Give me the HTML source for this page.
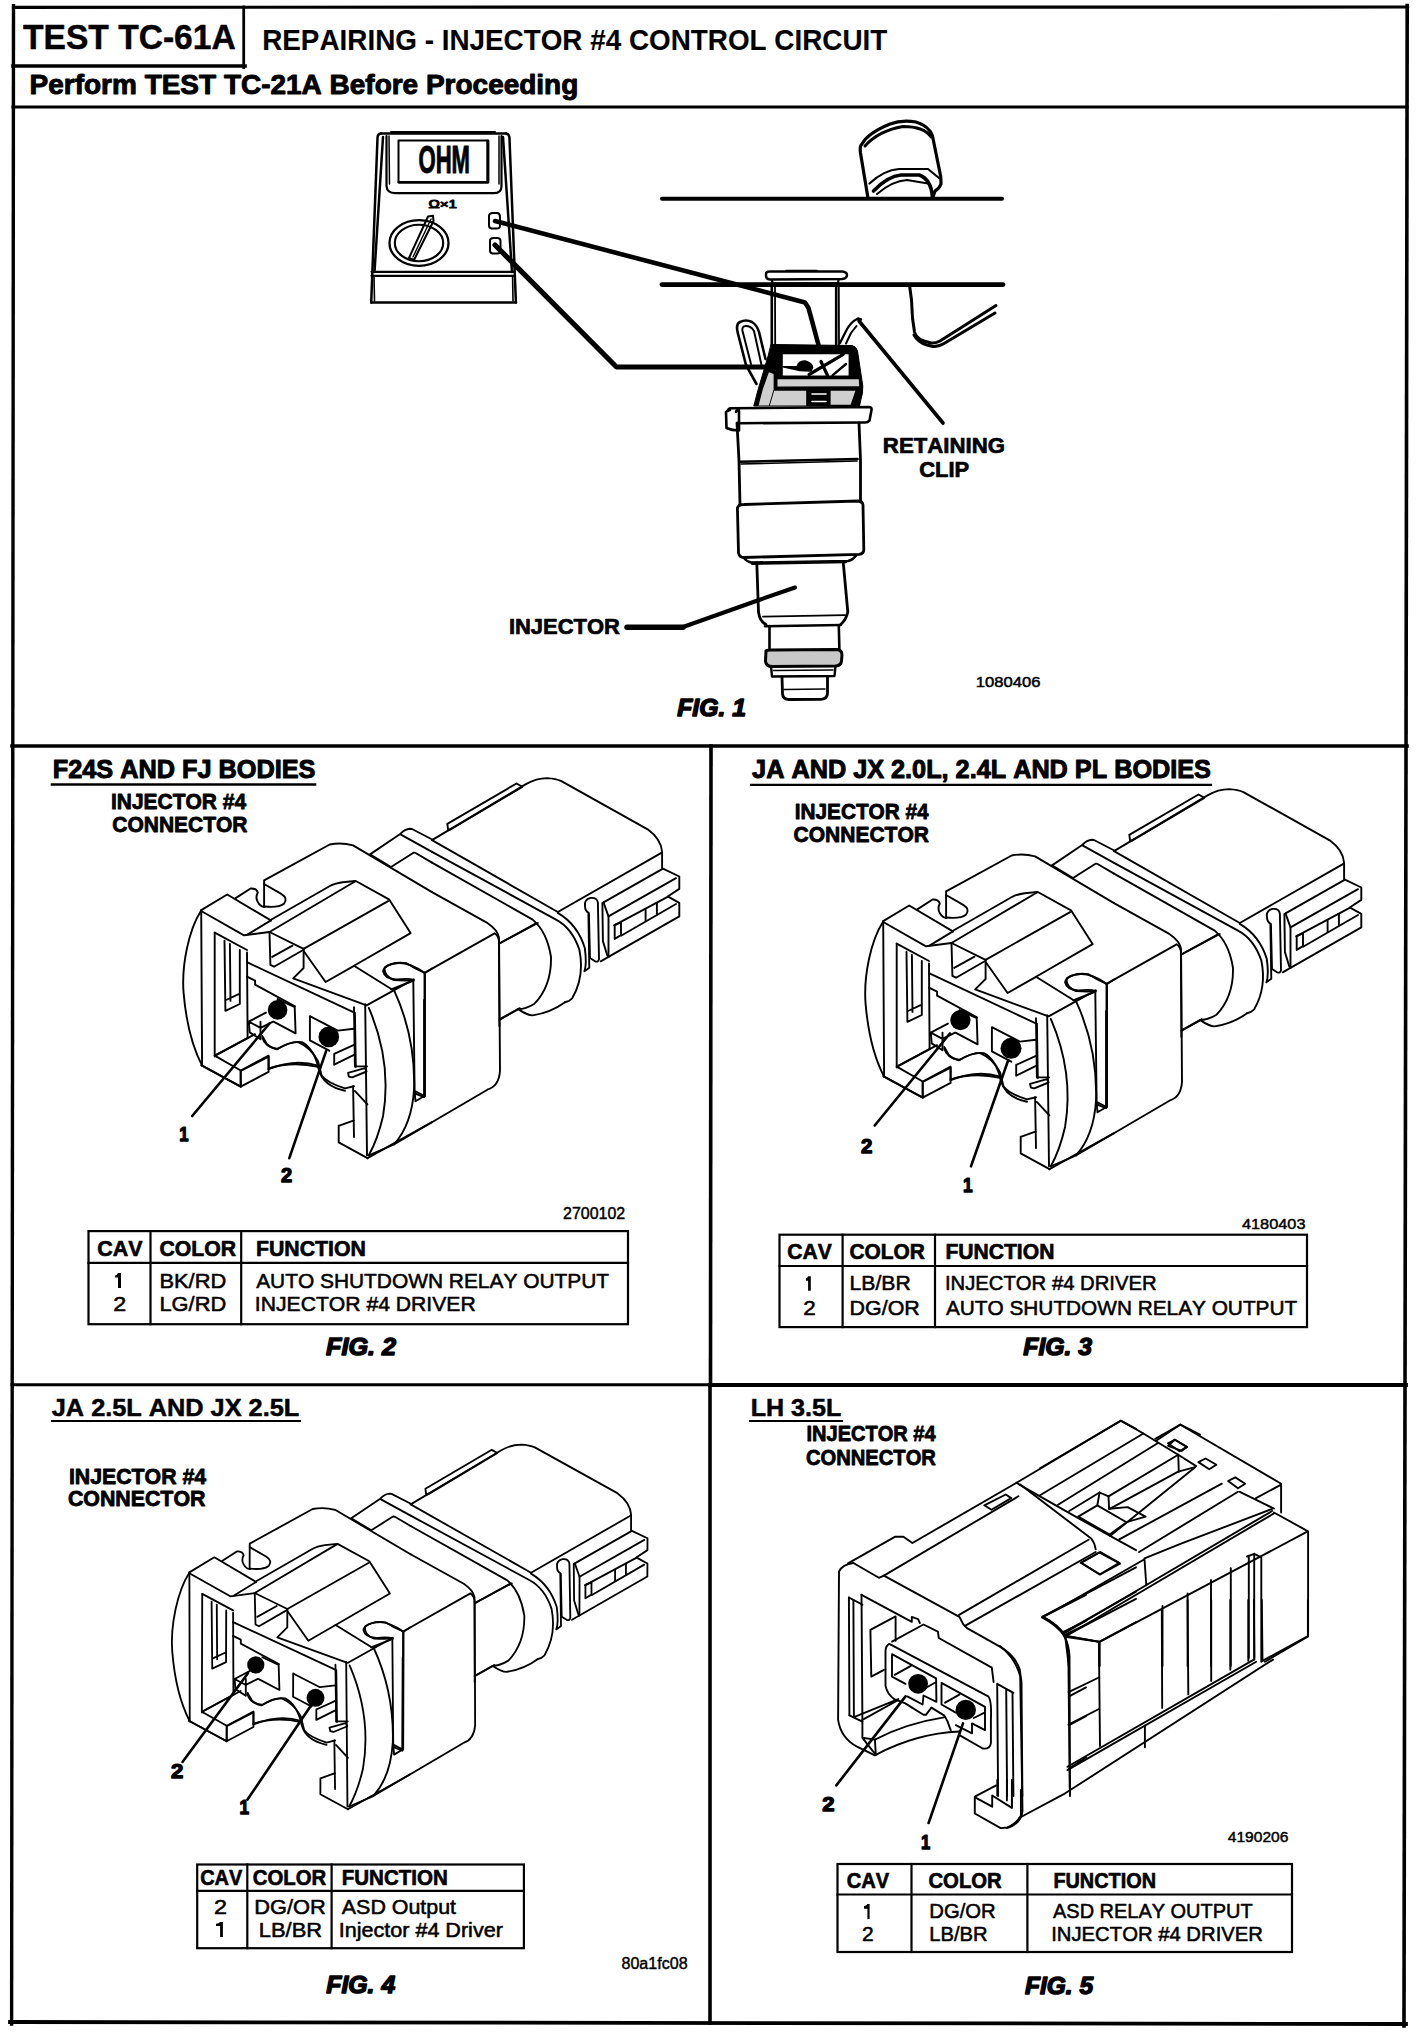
<!DOCTYPE html>
<html><head><meta charset="utf-8"><style>
html,body{margin:0;padding:0;background:#fff;}
svg{display:block;}
text{font-family:"Liberation Sans",sans-serif;font-weight:bold;fill:#000;font-kerning:none;}
</style></head><body>
<svg width="1424" height="2032" viewBox="0 0 1424 2032">
<rect width="1424" height="2032" fill="#fff"/>
<g stroke="#000" stroke-linecap="square" fill="none">
<line x1="13.5" y1="7.3" x2="1407.5" y2="7" stroke-width="3.2"/>
<line x1="13.5" y1="5.7" x2="11.6" y2="2024" stroke-width="3.4"/>
<line x1="1407.2" y1="5.5" x2="1404" y2="2026" stroke-width="3.6"/>
<line x1="10" y1="2022" x2="1406" y2="2024" stroke-width="3.8"/>
<line x1="243.7" y1="7" x2="243.7" y2="67.5" stroke-width="2.8"/>
<line x1="13" y1="66" x2="245" y2="66" stroke-width="3.6"/>
<line x1="13" y1="107" x2="1407" y2="107" stroke-width="3.2"/>
<line x1="12" y1="746" x2="1407" y2="746" stroke-width="3.6"/>
<line x1="711" y1="746" x2="710.5" y2="1385" stroke-width="3.6"/>
<line x1="710" y1="1385" x2="710" y2="2023" stroke-width="3.6"/>
<line x1="12" y1="1384.7" x2="710" y2="1384.7" stroke-width="3"/>
<line x1="710" y1="1385" x2="1406" y2="1385" stroke-width="3.8"/>
<line x1="52" y1="784.5" x2="315" y2="784.5" stroke-width="2.6"/>
<line x1="751" y1="784.9" x2="1211" y2="784.9" stroke-width="2.2"/>
<line x1="52" y1="1421" x2="300" y2="1421" stroke-width="2.2"/>
<line x1="750" y1="1421" x2="842" y2="1421" stroke-width="2.2"/>
<rect x="88.5" y="1231.1" width="539.5" height="93.10000000000014" fill="none" stroke-width="2.2"/>
<line x1="88.5" y1="1262.9" x2="628" y2="1262.9" stroke-width="2.2"/>
<line x1="150.5" y1="1231.1" x2="150.5" y2="1324.2" stroke-width="2.2"/>
<line x1="241.2" y1="1231.1" x2="241.2" y2="1324.2" stroke-width="2.2"/>
<rect x="779.5" y="1234.7" width="527.5" height="92.39999999999986" fill="none" stroke-width="2.2"/>
<line x1="779.5" y1="1266" x2="1307" y2="1266" stroke-width="2.2"/>
<line x1="842.6" y1="1234.7" x2="842.6" y2="1327.1" stroke-width="2.2"/>
<line x1="935" y1="1234.7" x2="935" y2="1327.1" stroke-width="2.2"/>
<rect x="197.2" y="1864.5" width="326.7" height="83.70000000000005" fill="none" stroke-width="2.2"/>
<line x1="197.2" y1="1890.8" x2="523.9" y2="1890.8" stroke-width="2.2"/>
<line x1="247.3" y1="1864.5" x2="247.3" y2="1948.2" stroke-width="2.2"/>
<line x1="331.6" y1="1864.5" x2="331.6" y2="1948.2" stroke-width="2.2"/>
<rect x="837.5" y="1864" width="454.5" height="88" fill="none" stroke-width="2.2"/>
<line x1="837.5" y1="1894.5" x2="1292" y2="1894.5" stroke-width="2.2"/>
<line x1="911.5" y1="1864" x2="911.5" y2="1952" stroke-width="2.2"/>
<line x1="1027.4" y1="1864" x2="1027.4" y2="1952" stroke-width="2.2"/>
<path d="M118,1273 L121,1273 L121,1288 L118,1288 L118,1277.6 L115.1,1277.6 L115.1,1275.6 Q117,1275.4 118,1273 Z" fill="#000" stroke="none"/>
<path d="M808.1,1276.2 L810.8,1276.2 L810.8,1290.8 L808.1,1290.8 L808.1,1280.8 L806,1280.8 L806,1278.1 Q807.5,1278 808.1,1276.2 Z" fill="#000" stroke="none"/>
<path d="M220.1,1921.9 L222.9,1921.9 L222.9,1936.9 L220.1,1936.9 L220.1,1925.9 L216,1925.9 L216,1923.8 Q219,1923.6 220.1,1921.9 Z" fill="#000" stroke="none"/>
<path d="M867.4,1904 L869.6,1904 L869.6,1918.9 L867.4,1918.9 L867.4,1908.8 L864,1908.8 L864,1906 Q866.5,1906 867.4,1904 Z" fill="#000" stroke="none"/>
</g>
<g stroke="#000" fill="none" stroke-linecap="round" stroke-linejoin="round">
<path d="M381,133.5 L506,133.5" stroke-width="2.5" fill="none"/>
<path d="M391,132 L495,132" stroke-width="2" fill="none"/>
<path d="M381,133.5 Q377.5,134 377.5,138 L371.2,302.5" stroke-width="2.5" fill="none"/>
<path d="M383,137 L374.5,272" stroke-width="2.5" fill="none"/>
<path d="M506,133.5 Q509.5,134 509.5,139 L515.9,302.5" stroke-width="2.5" fill="none"/>
<path d="M503,137 L512,272" stroke-width="2.5" fill="none"/>
<path d="M371.2,302.5 L515.9,302.5" stroke-width="2.5" fill="none"/>
<path d="M371.5,271.8 L514.5,271.8" stroke-width="2.2" fill="none"/>
<path d="M371.5,275.8 L514.8,275.8" stroke-width="2.2" fill="none"/>
<path d="M374,276 L374.5,301" stroke-width="1.6" fill="none"/>
<path d="M512.6,276 L513,301" stroke-width="1.6" fill="none"/>
<path d="M386.5,136 L386.5,186 Q387,193 395,193.2 L494,193.2 Q501.5,193 501.5,186 L501.5,136" stroke-width="2.2" fill="none"/>
<path d="M389,136 L389.5,184" stroke-width="1.5" fill="none"/>
<path d="M499,136 L499,184" stroke-width="1.5" fill="none"/>
<path d="M398.5,140.5 L487.5,140.5 L487.5,182 L398.5,182 Z" stroke-width="2" fill="none"/>
<path d="M398.8,182.3 L488,182.3 L488,141" stroke-width="2.8" fill="none"/>
<ellipse cx="419" cy="243" rx="29.5" ry="22.8" stroke-width="2.3" fill="none"/>
<ellipse cx="419" cy="243" rx="24.2" ry="18.3" stroke-width="2.1" fill="none"/>
<path d="M409,258 L428,216.5 L433,215.8 L433.5,221 L414,260 Z" stroke-width="2" fill="none"/>
<path d="M413,257 L431,219" stroke-width="1.4" fill="none"/>
<path d="M489,216 Q489,213 493,213 L497.5,213 Q500,213.5 500,217 L500,226 Q500,228.5 496,228.5 L491.5,228.5 Q489,228 489,225.5 Z" stroke-width="2" fill="none"/>
<path d="M490,240.5 Q490,238 493.5,238 L498,238 Q500.5,238.5 500.5,241 L500.5,251 Q500.5,253.5 497,253.5 L492.5,253.5 Q490,253 490,250.5 Z" stroke-width="2" fill="none"/>
<path d="M662,198.8 L1002,198.8" stroke-width="4.0" fill="none"/>
<path d="M662,284.6 L1003,284.6" stroke-width="4.8" fill="none"/>
<path d="M909.5,285 L911.5,300 L912.5,318 L914.5,332 Q916,338 924,341 L931,343 Q935,343.5 940,341 L996,305.5" stroke-width="3.0" fill="none"/>
<path d="M914,335 Q918,342.5 927,345 L933,346.5 Q937.5,347 944,343.5 L995,313" stroke-width="3" fill="none"/>
<path d="M867.8,197 L860.5,153 Q859.5,146 862,144 Q868,133 890,124 Q902,119.5 916,122 Q929,126 932.5,136 L940.8,177 L941,184 Q939,189 935,191 L933,197" stroke-width="3.2" fill="none"/>
<path d="M865,146 Q878,131 903,126.5 Q924,126.5 931,137" stroke-width="3.0" fill="none"/>
<path d="M869.5,183.5 Q884,170 899,169 L928,169 L939,178" stroke-width="2.2" fill="none"/>
<path d="M873.5,191 Q888,176 901,175 L919,175 Q931,179 932.5,197" stroke-width="3.6" fill="none"/>
<path d="M877,194 Q892,181 907,180 L928,183.5" stroke-width="2" fill="none"/>
<path d="M495,221 L805,302.5 L808.5,308 L825,369" stroke-width="4.6" fill="none" stroke-linejoin="round"/>
<path d="M495,245 L616.5,367 L790,367" stroke-width="5.2" fill="none" stroke-linejoin="round"/>
<path d="M766,274 Q766,271.5 770,271.5 L842,271.5 Q847,272 847,275 Q847,278.5 842,279 L770,279.5 Q766,279 766,276 Z" stroke-width="2.4" fill="none"/>
<path d="M786,270.8 L817,270.8" stroke-width="2" fill="none"/>
<path d="M772,280 L772.5,283.5 L838,283.2 L838.5,280" stroke-width="2.2" fill="none"/>
<path d="M771.8,284 L771.8,345" stroke-width="2.6" fill="none"/>
<path d="M775,285 L775.2,345" stroke-width="1.8" fill="none"/>
<path d="M836.2,284 L836.2,345" stroke-width="2.6" fill="none"/>
<path d="M838.8,284 L839,345" stroke-width="1.8" fill="none"/>
<path d="M771.3,344.5 L852,345.5 Q856.5,346.5 857.5,351 L862.8,386 Q863,394 861,399 L859.5,406 L753.8,406 L758,390 L767.8,357 Z" fill="#000" stroke="#000" stroke-width="1"/>
<path d="M782.8,354.3 L848.6,354.3 L848.6,375.4 L782.8,375.4 Z" fill="#fff" stroke="none"/>
<path d="M777.5,379.3 L858.8,379.3 L859.2,386.3 L777.5,386.6 Z" fill="#cfcfcf" stroke="none"/>
<path d="M774.2,390.8 L806.2,390.8 L806.2,405.5 L769.8,405.5 Z" fill="#cfcfcf" stroke="none"/>
<path d="M830.6,390.8 L855.4,390.8 L850.6,404.8 L830.6,404.8 Z" fill="#cfcfcf" stroke="none"/>
<path d="M768.9,372.3 L773.6,374 L773.6,389.2 L768.9,405.5 L758.6,405.5 L762.8,389.2 Z" fill="#cfcfcf" stroke="none"/>
<path d="M812,394 L826,394 M812,401.5 L826,401.5" stroke="#fff" stroke-width="1.6" fill="none"/>
<path d="M782.8,366.8 L797,366.8 Q799,360.5 805,361 Q812,363 812.6,367.5 L811,371 L800,370.5 Z" fill="#000" stroke="#000" stroke-width="1.5"/>
<path d="M809.1,374.5 L843.3,354.3" stroke-width="3.2" fill="none"/>
<path d="M821,361.5 L827.5,375.5" stroke-width="3.2" fill="none"/>
<path d="M832.5,375.4 L846,364" stroke-width="2.4" fill="none"/>
<path d="M756.5,384 L746,365 L737.8,333 Q735.5,324 740,322 Q746,319 752,322 Q757,325 759,332 L765.5,359" stroke-width="2.6" fill="none"/>
<path d="M751,364 L742.5,331 Q741.5,326 746,326 Q751,326 754,331 L761.5,365" stroke-width="2" fill="none"/>
<path d="M840,343 L845,333 Q850,322 858,318.5 L861,319.5" stroke-width="2.4" fill="none"/>
<path d="M846,343.5 L851,333 L856.5,326" stroke-width="2" fill="none"/>
<path d="M859,321 L943,423" stroke-width="3.6" fill="none"/>
<path d="M728,411 Q728,408.5 731,408.3 L869.5,407 Q872,407.5 871.5,410 L869.5,420.5 Q868,422.5 865,422.5 L741,423.2" stroke-width="2.6" fill="none"/>
<path d="M736,412 Q736.5,409.5 739,409.5 M739,411 L739,430.5 Q732,430.5 726.5,428 L726,412 Q727,410.5 730,410" stroke-width="2.6" fill="none"/>
<path d="M737,423 L739,461 L740,505" stroke-width="2.8" fill="none"/>
<path d="M859,423 L860.5,460 L860.5,502" stroke-width="2.8" fill="none"/>
<path d="M739.5,461.8 L857.5,459" stroke-width="2.6" fill="none"/>
<path d="M741,464 L857,461" stroke-width="1.6" fill="none"/>
<path d="M739,505.5 Q737,507 737.5,511 L738.5,553 Q739.5,557.5 744,557.5 L859,554.3 Q864,554 863.8,549 L863,505 Q862.5,501 858,501 L744,504.5 Q740,504.5 739,505.5 Z" stroke-width="2.8" fill="none"/>
<path d="M744,557.8 Q746,561 751,562.5 L848,561 Q853,560 856,555.5" stroke-width="2.4" fill="none"/>
<path d="M752,563.8 L846,562.2" stroke-width="2.2" fill="none"/>
<path d="M756.8,563 L758.5,612 Q760,622 766,624.5 M843.3,563 L847.8,612 Q846,620 841,624" stroke-width="2.8" fill="none"/>
<path d="M763,616.6 L845,615.2" stroke-width="1.8" fill="none"/>
<path d="M765,626.3 L841,625" stroke-width="2.6" fill="none"/>
<path d="M769.5,626 L769.5,649 M838.8,626 L839.4,649" stroke-width="2.6" fill="none"/>
<path d="M766,651 Q765.5,650.5 770,650 L837,649.5 Q842,650 842,655 L841.5,661 Q841,665.5 836,666 L771,666.5 Q766,666 765.5,661 Z" stroke-width="3" fill="#c8c8c8"/>
<path d="M771,666 L772,676.5 L834.5,676 L835.5,666" stroke-width="2.4" fill="none"/>
<path d="M773.5,670.5 L833,670" stroke-width="1.6" fill="none"/>
<path d="M782,677 L782.5,694 Q783,699.5 789,699.5 L821,699.3 Q827.5,699 827.5,693 L827.5,677" stroke-width="2.8" fill="none"/>
<path d="M784,689.5 L825,689" stroke-width="1.4" fill="none"/>
<path d="M627,627.2 L683,627.2" stroke-width="5.5" fill="none"/>
<path d="M683,627 L759,600 L795,587.5" stroke-width="4" fill="none" stroke-linejoin="round"/>
<text x="418.5" y="173" font-size="39" textLength="51.5" lengthAdjust="spacingAndGlyphs">OHM</text>
<text x="428.5" y="208.3" font-size="11" textLength="28.5" lengthAdjust="spacingAndGlyphs" style="font-weight:normal">Ω×1</text>
</g><g stroke="#000" fill="none" stroke-linecap="round" stroke-linejoin="round">
<g id="conn">
<path d="M 201.2,910.5 C 188.6,929.9 181.4,965.8 183.6,992.8 C 185.9,1019.8 192.2,1046.7 202.1,1065.6" stroke-width="1.9"/>
<path d="M 201.2,910.1 L 202.1,1065.6" stroke-width="1.9"/>
<path d="M 201.2,910.1 L 227.2,894.5 L 270.9,920.4" stroke-width="1.9"/>
<path d="M 247.9,934.4 L 270.9,920.4" stroke-width="1.9"/>
<path d="M 201.2,911.0 L 244.0,935.3 L 269.5,932.0" stroke-width="1.9"/>
<path d="M 235.3,898.4 L 250.6,888.5 Q 256.5,888.2 257.8,892.5 Q 255.1,897.5 257.8,902.0 Q 260.5,906.9 264.4,906.9" stroke-width="1.9"/>
<path d="M 264.1,906.9 L 264.1,880.4 L 329.7,844.5 Q 341.4,842.2 353.1,845.4 L 432.0,892.1" stroke-width="1.9"/>
<path d="M 264.1,884.0 L 281.2,893.9 Q 288.4,898.4 283.9,903.8 Q 278.5,908.0 264.4,906.5" stroke-width="1.9"/>
<path d="M 269.5,932.0 L 355.8,881.0 L 389.0,899.3 L 410.6,933.1 L 354.0,965.8 L 391.7,989.2" stroke-width="1.9"/>
<path d="M271,919.7 L329.9,886 Q334,883.5 342.6,882.2 L355.2,881" stroke-width="1.9"/>
<path d="M 269.5,932.0 L 303.6,948.8 L 388.1,901.1" stroke-width="1.9"/>
<path d="M 269.5,932.0 L 270.4,964.9 L 274.0,966.7 L 303.6,949.7" stroke-width="1.9"/>
<path d="M 272.2,956.9 L 292.5,945.7" stroke-width="1.9"/>
<path d="M 303.6,948.8 L 303.6,968.0 L 293.2,978.4 L 366.6,1005.4 L 413.7,979.3" stroke-width="1.9"/>
<path d="M 304.0,951.5 L 325.6,982.0 L 354.0,965.8" stroke-width="1.9"/>
<path d="M 214.7,932.6 L 214.7,1056.6" stroke-width="1.9"/>
<path d="M 214.7,932.6 L 247.0,950.0" stroke-width="1.9"/>
<path d="M 224.5,940.7 L 225.4,1010.8 L 239.8,1004.0 L 239.8,950.0 M 229.9,943.9 L 230.5,1000.9 M 226.0,1000.0 L 239.8,993.7" stroke-width="1.9"/>
<path d="M 247.0,952.4 L 247.6,1037.8" stroke-width="1.9"/>
<path d="M 247.0,962.2 L 354.9,1012.9 L 355.8,1066.9" stroke-width="1.9"/>
<path d="M 247.0,976.6 L 255.1,980.6 L 255.1,984.7 L 295.0,1006.3" stroke-width="1.9"/>
<path d="M 277.6,999.1 L 294.7,1007.2 L 295.6,1033.3 L 274.0,1021.9" stroke-width="1.9"/>
<path d="M 248.8,1021.6 L 265.9,1012.6 M 248.8,1021.6 L 249.7,1032.4 L 260.5,1039.2 M 260.5,1021.6 L 260.5,1039.2 M 248.8,1021.6 L 260.5,1027.9 L 273.1,1021.6" stroke-width="1.9"/>
<path d="M 309.9,1016.2 L 309.9,1040.4 L 329.2,1050.7 M 309.9,1016.2 L 337.8,1030.6 L 354.0,1028.8" stroke-width="1.9"/>
<path d="M 334.2,1053.9 L 354.0,1044.9 M 334.2,1064.7 L 354.0,1054.8 M 334.2,1053.9 L 334.2,1064.7" stroke-width="1.9"/>
<path d="M 262.3,1037.8 Q 265.0,1046.7 276.7,1049.4 Q 291.1,1040.4 301.8,1042.2 Q 314.4,1048.5 318.9,1070.1 Q 323.4,1086.3 345.0,1090.8" stroke-width="1.9"/>
<path d="M 268.6,1069.2 Q 294.7,1058.4 318.0,1065.6" stroke-width="1.9"/>
<path d="M 214.7,1055.7 L 247.9,1037.8 M 214.7,1055.7 L 240.7,1070.5 L 240.7,1086.7 M 202.1,1065.6 L 240.7,1086.7 M 240.7,1070.5 L 268.6,1055.7 L 268.6,1069.2" stroke-width="1.9"/>
<path d="M 425.0,973.0 Q 409.7,962.6 398.9,963.0 Q 384.5,964.0 383.1,971.2 Q 384.5,978.4 396.2,979.5 Q 407.9,978.1 413.7,979.9" stroke-width="1.9"/>
<path d="M 425.0,973.0 L 425.0,1096.0 M 425.0,973.0 L 432.0,968.5" stroke-width="1.9"/>
<path d="M370,854.4 L400.2,834 Q405,829 410,828.8 L412,829 L433.2,840" stroke-width="1.9"/>
<path d="M400.9,834.7 L432,851.8" stroke-width="1.9"/>
<path d="M370,854.4 L391,867 L413.5,852.7 Q414.5,852.5 415.6,853 L432,862.6" stroke-width="1.9"/>
<path d="M 432.0,840.1 L 525.5,784.4 Q 536.3,778.1 547.1,778.1 Q 556.0,778.6 561.4,781.1 L 647.7,829.3 Q 661.2,839.2 662.1,851.8 L 662.1,868.0" stroke-width="1.9"/>
<path d="M 447.3,823.9 L 516.5,783.5 L 521.9,786.5 M 450.0,829.7 L 521.9,787.1 M 447.3,823.9 L 448.2,830.2 L 453.6,827.5" stroke-width="1.9"/>
<path d="M 661.8,852.7 L 557.8,912.0" stroke-width="1.9"/>
<path d="M 432.0,840.1 L 557.8,912.0" stroke-width="1.9"/>
<path d="M 432.0,851.8 L 556.0,919.6 Q 572.2,928.2 579.4,949.8 Q 584.8,976.7 572.2,998.3 Q 568.6,1001.9 565.0,1002.3" stroke-width="1.9"/>
<path d="M 432.0,862.6 L 532.7,919.6 Q 547.1,931.8 551.0,957.0 Q 551.6,985.7 534.5,1003.7 Q 525.5,1009.1 518.3,1009.1" stroke-width="1.9"/>
<path d="M 432.0,892.2 L 487.7,923.2 Q 497.6,930.0 498.9,937.2 L 499.4,1026.0" stroke-width="1.9"/>
<path d="M 499.4,943.5 L 536.3,923.2" stroke-width="1.9"/>
<path d="M 557.8,912.9 Q 577.6,924.6 584.8,948.0 Q 587.0,964.2 584.4,971.3 L 589.3,967.8 L 588.4,913.8" stroke-width="1.9"/>
<path d="M 499.4,1019.9 L 518.3,1009.1 Q 527.3,1015.4 532.7,1015.4 Q 550.7,1012.7 565.0,1002.3" stroke-width="1.9"/>
<path d="M603.5,902.4 L663,868.7 L679.3,876.5 L679.3,888.9 L668.1,896.2" stroke-width="1.9"/>
<path d="M676,878.2 L608.5,916.4 L603.5,902.4" stroke-width="1.9"/>
<path d="M668.1,896.7 L679.3,902.9 L679.3,916.4 L608.5,956.9" stroke-width="1.9"/>
<path d="M676,904 L621.5,935.5" stroke-width="1.9"/>
<path d="M668.1,896.7 L614.2,925.4" stroke-width="1.9"/>
<path d="M614.7,925 L621,922.4 L621,935.1 L614.7,938.9 Z M645.6,909.7 L645.6,920.9 M656.9,902.9 L656.9,914.2" stroke-width="1.9"/>
<path d="M608.5,916.4 L608.5,955.7" stroke-width="1.9"/>
<path d="M602.4,902.9 L602.9,941.1 L607.4,955.7" stroke-width="1.9"/>
<path d="M600.7,961.3 L608.5,956.9" stroke-width="1.9"/>
<path d="M585,906.3 Q583.8,899.6 590.6,897.9 Q597.3,897.3 597.9,902.9 L599,959.1 Q598.4,962.5 595.1,961.3 L590,958 L588.9,913 Q585,910.8 585,906.3" stroke-width="1.9"/>
<path d="M348,1072.8 L364.9,1068.1 L366.6,1071.5 L352.2,1077.4 L348.9,1076.6 Z" stroke-width="1.9"/>
<path d="M354.8,1090.9 L367.4,1104.4" stroke-width="1.9"/>
<path d="M355.3,1066.4 L367,1066.4" stroke-width="1.9"/>
<path d="M 424.5,972.8 L 494.6,933.3 Q 499.1,936.0 499.1,943.1 L 500.0,1070.8 Q 499.1,1086.1 487.4,1089.7 L 393.9,1144.5 L 368.8,1155.3" stroke-width="1.9"/>
<path d="M 424.5,972.8 L 424.5,1096.0" stroke-width="1.9"/>
<path d="M 424.5,972.8 Q 415.5,969.2 406.5,963.3 Q 393.9,961.1 384.9,967.4 Q 383.1,975.5 393.9,980.0 Q 406.5,980.9 413.3,980.0 L 414.6,1090.9 L 424.5,1096.0 M 414.6,1090.9 L 415.5,1101.3 L 424.5,1096.0" stroke-width="1.9"/>
<path d="M 391.2,989.3 L 413.7,980.5" stroke-width="1.9"/>
<path d="M 365.2,1004.3 L 367.0,1155.3" stroke-width="1.9"/>
<path d="M 368.8,1007.9 Q 392.1,1061.8 383.1,1115.7 Q 377.8,1139.1 368.8,1155.3" stroke-width="1.9"/>
<path d="M 393.9,989.9 Q 415.5,1036.6 414.1,1088.8 Q 411.9,1124.7 393.9,1144.5" stroke-width="1.9"/>
<path d="M 500.0,943.1 L 537.8,923.0 M 500.0,1019.0 L 519.8,1008.2" stroke-width="1.9"/>
<path d="M 201.2,1065.1 L 240.7,1086.7 L 240.7,1071.0 M 240.7,1086.7 L 268.6,1071.9 L 268.6,1056.6 M 240.7,1071.0 L 268.6,1056.6" stroke-width="1.9"/>
<path d="M 215.2,1055.7 L 255.1,1034.2" stroke-width="1.9"/>
<path d="M 268.6,1068.3 Q 292.9,1061.1 318.0,1066.9" stroke-width="1.9"/>
<path d="M 262.3,1036.0 L 266.8,1044.0 Q 273.1,1049.4 278.5,1048.5 Q 291.1,1041.3 298.2,1042.2 Q 310.8,1047.6 318.0,1061.1 L 321.6,1075.5 Q 327.0,1082.7 345.0,1088.4 L 354.0,1086.3" stroke-width="1.9"/>
<path d="M 354.0,1007.2 L 354.9,1066.5 M 353.1,1086.3 L 354.0,1137.0 M 338.7,1125.8 L 354.0,1120.4 M 338.7,1125.8 L 338.7,1142.4 L 367.5,1158.2" stroke-width="1.9"/>
<path d="M 367.5,1158.2 L 432.0,1122.2" stroke-width="1.9"/>
<path d="M 415.1,1093.5 L 424.1,1097.1 L 424.1,1000.0" stroke-width="1.9"/>
</g>
<use href="#conn" transform="translate(682,11)"/>
<use href="#conn" transform="matrix(0.958,-0.00403,-0.00308,0.9577,-0.578,701.56)"/>
<circle cx="277.6" cy="1009.9" r="9.8" fill="#000" stroke="none"/>
<circle cx="328.8" cy="1036.9" r="10.3" fill="#000" stroke="none"/>
<path d="M269.5,1023.5 L192.2,1116" stroke-width="2.6"/>
<path d="M326.1,1051.2 L289.3,1158.2" stroke-width="2.6"/>
<circle cx="960.4" cy="1020.2" r="10.1" fill="#000" stroke="none"/>
<circle cx="1011" cy="1048.3" r="10.5" fill="#000" stroke="none"/>
<path d="M949.9,1033.5 L874.7,1125.5" stroke-width="2.6"/>
<path d="M1008.2,1060.2 L971,1166.3" stroke-width="2.6"/>
<circle cx="255.8" cy="1664.9" r="8.6" fill="#000" stroke="none"/>
<circle cx="315.5" cy="1697.8" r="9" fill="#000" stroke="none"/>
<path d="M248.1,1673 L182.5,1762" stroke-width="2.6"/>
<path d="M311,1705.4 L247.5,1799.6" stroke-width="2.6"/>
</g><g stroke="#000" fill="none" stroke-linecap="round" stroke-linejoin="round">
<path d="M 853.4,1563.0 Q 842.6,1564.3 839.0,1571.5 L 838.1,1719.8 Q 840.8,1737.8 857.0,1746.7 L 874.9,1755.4" stroke-width="1.9"/>
<path d="M 853.4,1563.0 L 878.9,1577.8 L 883.9,1575.6 L 959.4,1616.9 L 963.4,1624.5 L 967.0,1628.1 L 999.0,1646.1 Q 1015.2,1655.1 1019.7,1669.4 L 1021.5,1682.0 L 1022.4,1796.0" stroke-width="1.9"/>
<path d="M848,1563.4 L895.3,1536.7 L903.4,1536.7 L912.4,1543 L1016.6,1482.8" stroke-width="1.9"/>
<path d="M883.9,1575.6 L1018.4,1496.3" stroke-width="1.9"/>
<path d="M 848.9,1597.5 L 849.4,1715.3 M 853.4,1600.2 L 853.9,1717.1 M 861.5,1594.8 L 862.4,1719.8" stroke-width="1.9"/>
<path d="M 848.9,1597.5 L 862.4,1604.7 M 861.5,1594.8 L 911.8,1621.8 L 911.8,1616.9 L 918.1,1619.1 L 919.9,1623.1" stroke-width="1.9"/>
<path d="M 849.4,1715.3 L 862.4,1721.6 M 853.9,1717.1 L 898.3,1699.1 M 862.4,1719.8 L 898.3,1700.0" stroke-width="1.9"/>
<path d="M 870.4,1629.9 L 895.6,1616.4 L 895.6,1640.7 M 870.4,1629.9 L 871.3,1676.6 L 883.9,1669.8" stroke-width="1.9"/>
<path d="M 892.0,1641.6 L 923.5,1624.5 L 937.9,1631.7 L 938.8,1638.0 L 991.8,1667.6 L 993.6,1682.0" stroke-width="1.9"/>
<path d="M 889.3,1643.9 L 988.2,1696.4 Q 991.8,1700.0 990.9,1719.8 L 990.9,1743.1 Q 990.0,1749.4 982.8,1748.5 L 959.4,1735.1" stroke-width="1.9"/>
<path d="M889.3,1643.9 Q885.5,1646 885.5,1651 L885.5,1685.7 Q887,1694 894.3,1699.2 L905.3,1703.4 L923.4,1714.8 L925.9,1714.8 L931.4,1707.6 L944.4,1715.6 L947.4,1721.1 L950.8,1730.4" stroke-width="1.9"/>
<path d="M 892.0,1654.2 L 936.1,1678.4 L 936.4,1701.8 L 923.5,1695.5 L 922.6,1704.5 L 907.3,1696.4 M 892.0,1654.2 L 892.0,1676.6 L 905.5,1683.8 M 894.7,1674.8 L 910.9,1665.8 M 923.5,1689.2 L 936.1,1682.0" stroke-width="1.9"/>
<path d="M 941.5,1682.9 L 985.0,1706.8 L 985.0,1730.2 L 972.0,1723.4 L 972.0,1733.3 L 955.8,1725.2 M 941.5,1682.9 L 941.5,1704.5 L 955.8,1712.6 M 945.1,1702.7 L 959.4,1694.6 M 973.8,1718.0 L 984.6,1712.6" stroke-width="1.9"/>
<path d="M 997.2,1683.8 L 1013.4,1692.8 M 997.2,1683.8 L 998.1,1796.0 M 1006.2,1689.2 L 1007.1,1796.0 M 1012.5,1692.8 L 1013.4,1796.0" stroke-width="1.9"/>
<path d="M 874.9,1739.6 Q 905.5,1723.4 945.1,1717.1 M 875.8,1754.8 Q 916.3,1733.3 959.4,1731.5" stroke-width="1.9"/>
<path d="M 862.4,1721.6 L 862.4,1737.8 L 874.9,1739.6 M 862.4,1737.8 L 875.8,1754.8 L 874.9,1739.6" stroke-width="1.9"/>
<path d="M 1042.1,1617.3 Q 1058.3,1626.3 1063.7,1635.3 Q 1069.1,1644.3 1069.5,1656.9 L 1070.0,1796.0" stroke-width="1.9"/>
<path d="M 1063.7,1635.3 L 1086.0,1624.5 M 1061.9,1632.6 L 1086.0,1620.9" stroke-width="1.9"/>
<path d="M 1069.1,1696.4 L 1086.0,1687.4 M 1069.1,1725.2 L 1086.0,1716.2 M 1069.1,1768.3 L 1086.0,1757.5" stroke-width="1.9"/>
<path d="M 1042.1,1617.3 L 1086.0,1594.8" stroke-width="1.9"/>
<path d="M 1016.6,1482.8 L 1120.9,1420.8 L 1136.0,1428.9" stroke-width="1.9"/>
<path d="M 1020.2,1484.6 L 1091.2,1538.5 Q 1094.8,1543.0 1095.7,1549.3" stroke-width="1.9"/>
<path d="M 1016.6,1482.8 L 1020.2,1485.1" stroke-width="1.9"/>
<path d="M 984.3,1505.3 L 1005.8,1494.5 L 1011.2,1498.1 L 991.5,1509.8 Z" stroke-width="1.9"/>
<path d="M 959.1,1614.9 L 1088.5,1539.8 M 965.4,1625.7 L 1095.7,1552.0" stroke-width="1.9"/>
<path d="M 1081.3,1562.8 L 1099.3,1552.4 L 1120.0,1563.7 L 1100.2,1574.5 Z" stroke-width="1.9"/>
<path d="M 1042.7,1616.7 L 1136.0,1567.3" stroke-width="1.9"/>
<path d="M 1042.7,1616.7 Q 1059.8,1625.7 1065.2,1636.5 L 1068.8,1666.0" stroke-width="1.9"/>
<path d="M 1063.4,1632.9 L 1136.0,1591.6 M 1065.2,1635.8 L 1136.0,1598.8" stroke-width="1.9"/>
<path d="M 1065.2,1636.9 L 1099.3,1641.9 L 1136.0,1622.1 M 1099.3,1641.9 L 1099.3,1666.0" stroke-width="1.9"/>
<path d="M 1020.2,1485.1 L 1077.8,1517.9 L 1110.1,1535.8 L 1136.0,1550.2" stroke-width="1.9"/>
<path d="M 1239.8,1491.8 L 1273.9,1508.5" stroke-width="1.9"/>
<path d="M 1155.3,1438.8 L 1180.4,1424.7 L 1281.1,1483.7 L 1281.1,1512.5 M 1256.0,1498.1 L 1281.1,1484.6" stroke-width="1.9"/>
<path d="M 1167.9,1443.3 L 1175.1,1439.7 L 1186.7,1446.9 L 1179.6,1451.3 Z M 1198.4,1462.1 L 1205.6,1458.5 L 1216.4,1464.8 L 1209.2,1469.3 Z M 1228.1,1481.0 L 1235.3,1477.4 L 1245.2,1483.7 L 1238.0,1488.2 Z" stroke-width="1.9"/>
<path d="M 1110.3,1535.8 L 1194.8,1467.5 M 1119.3,1539.4 L 1221.8,1483.7 M 1139.1,1552.0 L 1238.0,1491.8 M 1144.5,1558.3 L 1180.4,1543.9 L 1272.1,1508.9" stroke-width="1.9"/>
<path d="M1040,1468.3 L1120.9,1420.6 L1143.4,1433.5 L1158,1442.5 L1178.2,1454.8 L1196.2,1466.1" stroke-width="1.9"/>
<path d="M1156.9,1440.2 L1180.4,1424.5 L1200,1434.6" stroke-width="1.9"/>
<path d="M1168.1,1445.8 L1174.8,1439.7 L1187.2,1447 L1181.6,1450.9 Z" stroke-width="1.9"/>
<path d="M1040,1495.3 L1143.4,1433.5" stroke-width="1.9"/>
<path d="M1058,1504.8 L1158,1443" stroke-width="1.9"/>
<path d="M1069.2,1511 L1099.6,1492.5 L1108.5,1496.4 L1178.2,1454.8" stroke-width="1.9"/>
<path d="M1099.6,1492.5 L1097.3,1505.4 M1108.5,1496.4 L1109.1,1508.8" stroke-width="1.9"/>
<path d="M1078.2,1516.6 L1097.3,1505.4 L1126.5,1522.2 L1109.7,1534.6 Z" stroke-width="1.9"/>
<path d="M1109.1,1508.8 L1127.6,1507.1 L1145.6,1516.6 L1126.5,1522.2" stroke-width="1.9"/>
<path d="M1109.7,1508.8 L1178.2,1471.7 L1195,1467.2" stroke-width="1.9"/>
<path d="M1178.2,1454.8 L1178.8,1471.7" stroke-width="1.9"/>
<path d="M1020.9,1790 L1020.9,1815.7 Q1016,1824 1007.4,1827.5 L1000.7,1828.1 L974.8,1813.5 L974.8,1796.6 L996.2,1785.4" stroke-width="1.9"/>
<path d="M976,1797.8 L992.2,1806.7 L992.2,1795.5 L1011.9,1807.9 L1011.9,1799" stroke-width="1.9"/>
<path d="M997.3,1780 L997.3,1795.5 M1006.9,1780 L1006.9,1800.6 M1011.9,1780 L1011.9,1806.7" stroke-width="1.9"/>
<path d="M 1080.7,1562.8 L 1100.4,1552.0 L 1119.3,1562.8 L 1099.6,1574.5 Z" stroke-width="1.9"/>
<path d="M 1060.0,1607.8 L 1144.5,1559.2 L 1146.3,1585.3" stroke-width="1.9"/>
<path d="M 1063.6,1633.8 L 1272.1,1511.0 M 1065.4,1636.5 L 1273.9,1513.4" stroke-width="1.9"/>
<path d="M 1273.9,1512.5 L 1308.1,1531.3 L 1308.1,1636.5 L 1264.9,1661.7" stroke-width="1.9"/>
<path d="M 1065.4,1635.6 L 1099.6,1641.9 L 1306.3,1532.2 M 1099.6,1641.9 L 1099.6,1666.0" stroke-width="1.9"/>
<path d="M 1162.5,1606.0 L 1162.5,1666.0 M 1187.6,1593.4 L 1187.6,1666.0 M 1211.0,1579.9 L 1211.0,1666.0 M 1230.8,1568.2 L 1230.8,1666.0 M 1248.8,1556.5 L 1248.8,1658.1 M 1254.2,1553.8 L 1254.2,1658.1 M 1261.3,1557.4 L 1261.3,1661.7 M 1247.0,1556.5 L 1254.2,1553.8 L 1261.3,1557.4" stroke-width="1.9"/>
<path d="M 1000.0,1646.1 Q 1015.7,1658.4 1020.2,1676.4 L 1022.5,1811.2 Q 1021.3,1823.6 1006.7,1828.1" stroke-width="1.9"/>
<path d="M 1019.1,1818.0 L 1065.2,1793.3 L 1273.0,1659.6" stroke-width="1.9"/>
<path d="M 1067.4,1766.7 L 1253.9,1659.6 M 1067.4,1770.1 L 1256.2,1661.8" stroke-width="1.9"/>
<path d="M 1042.7,1616.9 Q 1058.4,1624.7 1065.2,1636.0 Q 1068.5,1649.4 1068.5,1667.4 L 1069.7,1788.8" stroke-width="1.9"/>
<path d="M 1065.2,1636.0 L 1098.9,1641.6 L 1100.0,1746.1" stroke-width="1.9"/>
<path d="M 1068.5,1692.1 L 1098.9,1677.5 M 1068.5,1724.7 L 1098.9,1709.0" stroke-width="1.9"/>
<path d="M 1161.8,1609.0 L 1162.2,1707.9 M 1187.6,1600.0 L 1188.3,1694.4 M 1211.2,1600.0 L 1211.2,1680.9 M 1230.3,1600.0 L 1230.3,1669.7 M 1248.3,1600.0 L 1248.3,1660.7 M 1253.9,1600.0 L 1254.4,1659.6 M 1261.8,1600.0 L 1262.5,1660.7" stroke-width="1.9"/>
<path d="M 1307.9,1600.0 L 1307.9,1636.0 L 1262.9,1660.7 M 1144.9,1725.8 L 1144.9,1747.2 M 1042.7,1616.9 L 1074.2,1600.0" stroke-width="1.9"/>
<circle cx="918.0898876404494" cy="1683.8202247191011" r="9.9" fill="#000" stroke="none"/>
<circle cx="965.7303370786517" cy="1709.887640449438" r="10.2" fill="#000" stroke="none"/>
<path d="M905.5,1696.4 L836.3,1785.4" stroke-width="2.6"/>
<path d="M963.0,1723.4 L928.6,1823" stroke-width="2.6"/>
</g>
<g>
<text x="23.05" y="48.67" font-size="35.68" textLength="212.61" lengthAdjust="spacingAndGlyphs" style="stroke:#000;stroke-width:0.45;stroke-linejoin:round">TEST TC-61A</text>
<text x="262.19" y="49.80" font-size="28.63" textLength="625.06" lengthAdjust="spacingAndGlyphs" style="stroke:#000;stroke-width:0.10;stroke-linejoin:round">REPAIRING - INJECTOR #4 CONTROL CIRCUIT</text>
<text x="29.60" y="94.33" font-size="27.25" textLength="548.69" lengthAdjust="spacingAndGlyphs" style="stroke:#000;stroke-width:0.95;stroke-linejoin:round">Perform TEST TC-21A Before Proceeding</text>
<text x="882.86" y="452.55" font-size="21.95" textLength="122.16" lengthAdjust="spacingAndGlyphs" style="stroke:#000;stroke-width:0.70;stroke-linejoin:round">RETAINING</text>
<text x="919.15" y="477.25" font-size="21.95" textLength="50.05" lengthAdjust="spacingAndGlyphs" style="stroke:#000;stroke-width:0.70;stroke-linejoin:round">CLIP</text>
<text x="508.88" y="634.45" font-size="21.95" textLength="110.92" lengthAdjust="spacingAndGlyphs" style="stroke:#000;stroke-width:0.70;stroke-linejoin:round">INJECTOR</text>
<text x="677.26" y="715.60" font-size="23.98" textLength="68.76" lengthAdjust="spacingAndGlyphs" style="font-style:italic;stroke:#000;stroke-width:1.40;stroke-linejoin:round">FIG. 1</text>
<text x="975.89" y="686.75" font-size="15.55" textLength="64.59" lengthAdjust="spacingAndGlyphs" style="font-weight:normal;stroke:#000;stroke-width:0.50;stroke-linejoin:round">1080406</text>
<text x="52.81" y="778.30" font-size="25.87" textLength="262.58" lengthAdjust="spacingAndGlyphs" style="stroke:#000;stroke-width:1.00;stroke-linejoin:round">F24S AND FJ BODIES</text>
<text x="752.12" y="778.40" font-size="26.16" textLength="458.87" lengthAdjust="spacingAndGlyphs" style="stroke:#000;stroke-width:1.00;stroke-linejoin:round">JA AND JX 2.0L, 2.4L AND PL BODIES</text>
<text x="51.77" y="1415.65" font-size="23.98" textLength="247.46" lengthAdjust="spacingAndGlyphs" style="stroke:#000;stroke-width:0.50;stroke-linejoin:round">JA 2.5L AND JX 2.5L</text>
<text x="750.67" y="1415.65" font-size="23.98" textLength="90.55" lengthAdjust="spacingAndGlyphs" style="stroke:#000;stroke-width:0.50;stroke-linejoin:round">LH 3.5L</text>
<text x="111.00" y="809.40" font-size="21.80" textLength="135.11" lengthAdjust="spacingAndGlyphs" style="stroke:#000;stroke-width:0.80;stroke-linejoin:round">INJECTOR #4</text>
<text x="112.24" y="832.20" font-size="21.37" textLength="135.29" lengthAdjust="spacingAndGlyphs" style="stroke:#000;stroke-width:0.80;stroke-linejoin:round">CONNECTOR</text>
<text x="794.71" y="818.50" font-size="21.80" textLength="133.90" lengthAdjust="spacingAndGlyphs" style="stroke:#000;stroke-width:0.80;stroke-linejoin:round">INJECTOR #4</text>
<text x="793.54" y="842.40" font-size="21.37" textLength="135.39" lengthAdjust="spacingAndGlyphs" style="stroke:#000;stroke-width:0.80;stroke-linejoin:round">CONNECTOR</text>
<text x="68.88" y="1483.50" font-size="21.80" textLength="137.24" lengthAdjust="spacingAndGlyphs" style="stroke:#000;stroke-width:0.80;stroke-linejoin:round">INJECTOR #4</text>
<text x="67.92" y="1506.10" font-size="21.37" textLength="137.51" lengthAdjust="spacingAndGlyphs" style="stroke:#000;stroke-width:0.80;stroke-linejoin:round">CONNECTOR</text>
<text x="806.46" y="1441.20" font-size="21.80" textLength="129.15" lengthAdjust="spacingAndGlyphs" style="stroke:#000;stroke-width:0.80;stroke-linejoin:round">INJECTOR #4</text>
<text x="805.97" y="1465.00" font-size="21.37" textLength="129.94" lengthAdjust="spacingAndGlyphs" style="stroke:#000;stroke-width:0.80;stroke-linejoin:round">CONNECTOR</text>
<text x="97.35" y="1256.38" font-size="21.58" textLength="45.28" lengthAdjust="spacingAndGlyphs" style="stroke:#000;stroke-width:0.65;stroke-linejoin:round">CAV</text>
<text x="159.46" y="1256.38" font-size="21.58" textLength="76.55" lengthAdjust="spacingAndGlyphs" style="stroke:#000;stroke-width:0.65;stroke-linejoin:round">COLOR</text>
<text x="255.90" y="1256.38" font-size="21.58" textLength="110.01" lengthAdjust="spacingAndGlyphs" style="stroke:#000;stroke-width:0.65;stroke-linejoin:round">FUNCTION</text>
<text x="113.20" y="1311.22" font-size="21.00" textLength="13.00" lengthAdjust="spacingAndGlyphs" style="font-weight:normal;stroke:#000;stroke-width:0.55;stroke-linejoin:round">2</text>
<text x="159.49" y="1287.72" font-size="21.00" textLength="66.68" lengthAdjust="spacingAndGlyphs" style="font-weight:normal;stroke:#000;stroke-width:0.55;stroke-linejoin:round">BK/RD</text>
<text x="159.49" y="1311.22" font-size="21.00" textLength="66.68" lengthAdjust="spacingAndGlyphs" style="font-weight:normal;stroke:#000;stroke-width:0.55;stroke-linejoin:round">LG/RD</text>
<text x="256.13" y="1287.72" font-size="21.00" textLength="352.97" lengthAdjust="spacingAndGlyphs" style="font-weight:normal;stroke:#000;stroke-width:0.55;stroke-linejoin:round">AUTO SHUTDOWN RELAY OUTPUT</text>
<text x="254.82" y="1311.22" font-size="21.00" textLength="220.88" lengthAdjust="spacingAndGlyphs" style="font-weight:normal;stroke:#000;stroke-width:0.55;stroke-linejoin:round">INJECTOR #4 DRIVER</text>
<text x="787.36" y="1258.67" font-size="21.58" textLength="44.56" lengthAdjust="spacingAndGlyphs" style="stroke:#000;stroke-width:0.65;stroke-linejoin:round">CAV</text>
<text x="849.47" y="1258.67" font-size="21.58" textLength="75.44" lengthAdjust="spacingAndGlyphs" style="stroke:#000;stroke-width:0.65;stroke-linejoin:round">COLOR</text>
<text x="945.41" y="1258.67" font-size="21.58" textLength="108.98" lengthAdjust="spacingAndGlyphs" style="stroke:#000;stroke-width:0.65;stroke-linejoin:round">FUNCTION</text>
<text x="803.24" y="1314.52" font-size="21.00" textLength="12.51" lengthAdjust="spacingAndGlyphs" style="font-weight:normal;stroke:#000;stroke-width:0.55;stroke-linejoin:round">2</text>
<text x="849.64" y="1289.92" font-size="21.00" textLength="61.06" lengthAdjust="spacingAndGlyphs" style="font-weight:normal;stroke:#000;stroke-width:0.55;stroke-linejoin:round">LB/BR</text>
<text x="849.62" y="1314.52" font-size="21.00" textLength="70.20" lengthAdjust="spacingAndGlyphs" style="font-weight:normal;stroke:#000;stroke-width:0.55;stroke-linejoin:round">DG/OR</text>
<text x="944.90" y="1289.92" font-size="21.00" textLength="211.76" lengthAdjust="spacingAndGlyphs" style="font-weight:normal;stroke:#000;stroke-width:0.55;stroke-linejoin:round">INJECTOR #4 DRIVER</text>
<text x="945.93" y="1314.52" font-size="21.00" textLength="351.27" lengthAdjust="spacingAndGlyphs" style="font-weight:normal;stroke:#000;stroke-width:0.55;stroke-linejoin:round">AUTO SHUTDOWN RELAY OUTPUT</text>
<text x="200.21" y="1884.58" font-size="21.58" textLength="42.10" lengthAdjust="spacingAndGlyphs" style="stroke:#000;stroke-width:0.65;stroke-linejoin:round">CAV</text>
<text x="252.79" y="1884.58" font-size="21.58" textLength="73.40" lengthAdjust="spacingAndGlyphs" style="stroke:#000;stroke-width:0.65;stroke-linejoin:round">COLOR</text>
<text x="341.75" y="1884.58" font-size="21.58" textLength="106.01" lengthAdjust="spacingAndGlyphs" style="stroke:#000;stroke-width:0.65;stroke-linejoin:round">FUNCTION</text>
<text x="214.00" y="1913.62" font-size="21.00" textLength="13.00" lengthAdjust="spacingAndGlyphs" style="font-weight:normal;stroke:#000;stroke-width:0.55;stroke-linejoin:round">2</text>
<text x="254.19" y="1913.62" font-size="21.00" textLength="71.45" lengthAdjust="spacingAndGlyphs" style="font-weight:normal;stroke:#000;stroke-width:0.55;stroke-linejoin:round">DG/OR</text>
<text x="258.88" y="1936.62" font-size="21.00" textLength="63.16" lengthAdjust="spacingAndGlyphs" style="font-weight:normal;stroke:#000;stroke-width:0.55;stroke-linejoin:round">LB/BR</text>
<text x="341.83" y="1913.62" font-size="21.00" textLength="114.25" lengthAdjust="spacingAndGlyphs" style="font-weight:normal;stroke:#000;stroke-width:0.55;stroke-linejoin:round">ASD Output</text>
<text x="338.68" y="1936.62" font-size="21.00" textLength="164.20" lengthAdjust="spacingAndGlyphs" style="font-weight:normal;stroke:#000;stroke-width:0.55;stroke-linejoin:round">Injector #4 Driver</text>
<text x="846.70" y="1887.58" font-size="21.58" textLength="42.51" lengthAdjust="spacingAndGlyphs" style="stroke:#000;stroke-width:0.65;stroke-linejoin:round">CAV</text>
<text x="928.49" y="1887.58" font-size="21.58" textLength="73.20" lengthAdjust="spacingAndGlyphs" style="stroke:#000;stroke-width:0.65;stroke-linejoin:round">COLOR</text>
<text x="1053.40" y="1887.58" font-size="21.58" textLength="102.62" lengthAdjust="spacingAndGlyphs" style="stroke:#000;stroke-width:0.65;stroke-linejoin:round">FUNCTION</text>
<text x="862.12" y="1941.42" font-size="21.00" textLength="11.66" lengthAdjust="spacingAndGlyphs" style="font-weight:normal;stroke:#000;stroke-width:0.55;stroke-linejoin:round">2</text>
<text x="929.31" y="1918.22" font-size="21.00" textLength="66.35" lengthAdjust="spacingAndGlyphs" style="font-weight:normal;stroke:#000;stroke-width:0.55;stroke-linejoin:round">DG/OR</text>
<text x="929.33" y="1941.42" font-size="21.00" textLength="58.13" lengthAdjust="spacingAndGlyphs" style="font-weight:normal;stroke:#000;stroke-width:0.55;stroke-linejoin:round">LB/BR</text>
<text x="1053.04" y="1918.22" font-size="21.00" textLength="199.55" lengthAdjust="spacingAndGlyphs" style="font-weight:normal;stroke:#000;stroke-width:0.55;stroke-linejoin:round">ASD RELAY OUTPUT</text>
<text x="1051.20" y="1941.42" font-size="21.00" textLength="211.76" lengthAdjust="spacingAndGlyphs" style="font-weight:normal;stroke:#000;stroke-width:0.55;stroke-linejoin:round">INJECTOR #4 DRIVER</text>
<text x="563.12" y="1218.58" font-size="16.06" textLength="62.05" lengthAdjust="spacingAndGlyphs" style="font-weight:normal;stroke:#000;stroke-width:0.45;stroke-linejoin:round">2700102</text>
<text x="1241.95" y="1228.58" font-size="15.19" textLength="63.54" lengthAdjust="spacingAndGlyphs" style="font-weight:normal;stroke:#000;stroke-width:0.45;stroke-linejoin:round">4180403</text>
<text x="621.53" y="1968.78" font-size="17.08" textLength="66.05" lengthAdjust="spacingAndGlyphs" style="font-weight:normal;stroke:#000;stroke-width:0.45;stroke-linejoin:round">80a1fc08</text>
<text x="1227.77" y="1842.18" font-size="14.46" textLength="60.69" lengthAdjust="spacingAndGlyphs" style="font-weight:normal;stroke:#000;stroke-width:0.45;stroke-linejoin:round">4190206</text>
<text x="326.06" y="1355.10" font-size="23.98" textLength="70.10" lengthAdjust="spacingAndGlyphs" style="font-style:italic;stroke:#000;stroke-width:1.40;stroke-linejoin:round">FIG. 2</text>
<text x="1023.26" y="1355.30" font-size="23.98" textLength="68.81" lengthAdjust="spacingAndGlyphs" style="font-style:italic;stroke:#000;stroke-width:1.40;stroke-linejoin:round">FIG. 3</text>
<text x="326.26" y="1992.80" font-size="23.98" textLength="68.96" lengthAdjust="spacingAndGlyphs" style="font-style:italic;stroke:#000;stroke-width:1.40;stroke-linejoin:round">FIG. 4</text>
<text x="1024.97" y="1993.60" font-size="23.98" textLength="68.04" lengthAdjust="spacingAndGlyphs" style="font-style:italic;stroke:#000;stroke-width:1.40;stroke-linejoin:round">FIG. 5</text>
<text x="179.18" y="1141.17" font-size="19.69" textLength="9.26" lengthAdjust="spacingAndGlyphs" style="stroke:#000;stroke-width:1.25;stroke-linejoin:round">1</text>
<text x="281.03" y="1182.28" font-size="19.69" textLength="11.15" lengthAdjust="spacingAndGlyphs" style="stroke:#000;stroke-width:1.25;stroke-linejoin:round">2</text>
<text x="861.12" y="1152.67" font-size="19.69" textLength="11.38" lengthAdjust="spacingAndGlyphs" style="stroke:#000;stroke-width:1.25;stroke-linejoin:round">2</text>
<text x="963.04" y="1191.78" font-size="19.69" textLength="9.62" lengthAdjust="spacingAndGlyphs" style="stroke:#000;stroke-width:1.25;stroke-linejoin:round">1</text>
<text x="171.06" y="1778.47" font-size="19.69" textLength="12.30" lengthAdjust="spacingAndGlyphs" style="stroke:#000;stroke-width:1.25;stroke-linejoin:round">2</text>
<text x="239.54" y="1813.88" font-size="19.69" textLength="9.62" lengthAdjust="spacingAndGlyphs" style="stroke:#000;stroke-width:1.25;stroke-linejoin:round">1</text>
<text x="822.16" y="1810.58" font-size="19.69" textLength="12.30" lengthAdjust="spacingAndGlyphs" style="stroke:#000;stroke-width:1.25;stroke-linejoin:round">2</text>
<text x="921.08" y="1848.58" font-size="19.69" textLength="9.26" lengthAdjust="spacingAndGlyphs" style="stroke:#000;stroke-width:1.25;stroke-linejoin:round">1</text>
</g>
</svg>
</body></html>
